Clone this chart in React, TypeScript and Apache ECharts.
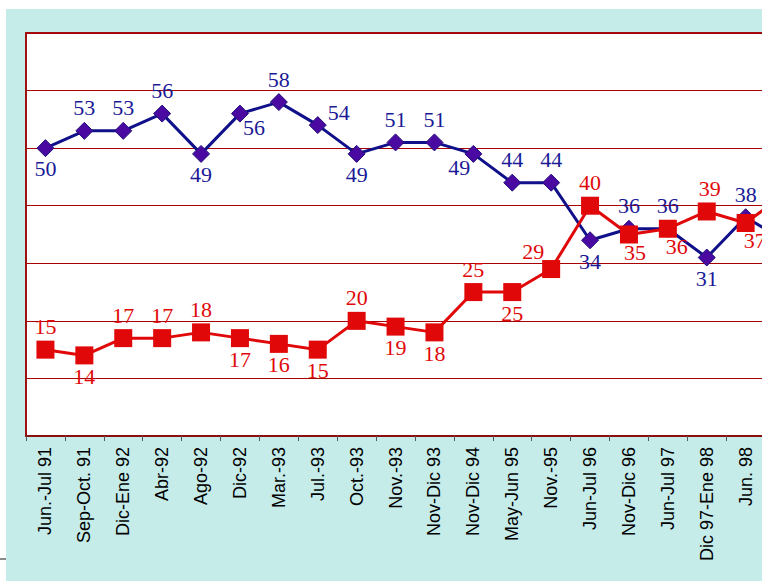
import React, { useEffect, useRef } from "react";
import * as echarts from "echarts";

const categories = [
  "Jun.-Jul 91", "Sep-Oct. 91", "Dic-Ene 92", "Abr-92", "Ago-92", "Dic-92",
  "Mar.-93", "Jul.-93", "Oct.-93", "Nov.-93", "Nov-Dic 93", "Nov-Dic 94",
  "May-Jun 95", "Nov.-95", "Jun-Jul 96", "Nov-Dic 96", "Jun-Jul 97",
  "Dic 97-Ene 98", "Jun. 98", "Nov. 98",
];
const blueValues = [50, 53, 53, 56, 49, 56, 58, 54, 49, 51, 51, 49, 44, 44, 34, 36, 36, 31, 38, 34];
const redValues = [15, 14, 17, 17, 18, 17, 16, 15, 20, 19, 18, 25, 25, 29, 40, 35, 36, 39, 37, 42];

// label placement per point: [position, dx, dy]
type LP = [string, number, number];
const blueLabelPos: LP[] = [
  ["bottom", 0, -3], ["top", 0, 0], ["top", 0, 0], ["top", 0, 0], ["bottom", 0, -2],
  ["bottom", 14, -9], ["top", 0, 0], ["top", 21, 10], ["bottom", 0, -2], ["top", 0, 0],
  ["top", 0, 0], ["bottom", -14, -9], ["top", 0, 0], ["top", 0, 0], ["bottom", 0, -2],
  ["top", 0, 0], ["top", 0, 0], ["bottom", 0, -2], ["top", 0, 0], ["top", 0, 0],
];
const redLabelPos: LP[] = [
  ["top", 0, 0], ["bottom", 0, -2], ["top", 0, 0], ["top", 0, 0], ["top", 0, 0],
  ["bottom", 0, -2], ["bottom", 0, -2], ["bottom", 0, -2], ["top", 0, 0], ["bottom", 0, -2],
  ["bottom", 0, -2], ["top", 0, 0], ["bottom", 0, -2], ["top", -18, 5], ["top", 0, 0],
  ["bottom", 6, -5], ["bottom", 9, -5], ["top", 3, 0], ["bottom", 9, -5], ["top", 0, 0],
];

const BLUE_LINE = "#10108a";
const BLUE_FILL = "#4a0aa2";
const BLUE_TEXT = "#1a1a96";
const RED = "#e00808";
const GRID_RED = "#a80000";

export default function App() {
  const ref = useRef<HTMLDivElement>(null);
  useEffect(() => {
    if (!ref.current) return;
    const chart = echarts.init(ref.current, undefined, { renderer: "svg" });
    const mk = (vals: number[], pos: LP[]) =>
      vals.map((v, i) => ({
        value: v,
        label: { position: pos[i][0] as any, offset: [pos[i][1], pos[i][2]] },
      }));
    chart.setOption({
      animation: false,
      backgroundColor: "#c6ecea",
      grid: {
        left: 20,
        top: 24,
        right: 102,
        bottom: 145,
        show: true,
        backgroundColor: "#ffffff",
        borderColor: "#a01010",
        borderWidth: 2,
      },
      xAxis: {
        type: "category",
        data: categories,
        boundaryGap: true,
        axisLine: { show: true, lineStyle: { color: "#8a1010", width: 2 } },
        axisTick: { show: true, length: 5, lineStyle: { color: "#555", width: 1 } },
        axisLabel: {
          rotate: 90,
          margin: 11,
          fontFamily: "Liberation Sans, Arial, sans-serif",
          fontSize: 18,
          color: "#000",
          interval: 0,
        },
      },
      yAxis: {
        type: "value",
        min: 0,
        max: 70,
        interval: 10,
        axisLine: { show: false },
        axisTick: { show: false },
        axisLabel: { show: false },
        splitLine: { show: true, lineStyle: { color: GRID_RED, width: 1 } },
      },
      series: [
        {
          type: "line",
          data: mk(blueValues, blueLabelPos),
          symbol: "diamond",
          symbolSize: 17,
          lineStyle: { color: BLUE_LINE, width: 3 },
          itemStyle: { color: BLUE_FILL, borderColor: "#20107a", borderWidth: 1 },
          label: {
            show: true,
            color: BLUE_TEXT,
            fontFamily: "Liberation Serif, Times New Roman, serif",
            fontSize: 22,
            distance: 3,
          },
          z: 2,
        },
        {
          type: "line",
          data: mk(redValues, redLabelPos),
          symbol: "rect",
          symbolSize: 18,
          lineStyle: { color: RED, width: 3 },
          itemStyle: { color: RED, borderColor: RED, borderWidth: 0 },
          label: {
            show: true,
            color: RED,
            fontFamily: "Liberation Serif, Times New Roman, serif",
            fontSize: 22,
            distance: 3,
          },
          z: 3,
        },
      ],
    });
    return () => chart.dispose();
  }, []);
  return (
    <div
      style={{
        position: "fixed",
        left: 0,
        top: 0,
        width: 762,
        height: 581,
        overflow: "hidden",
        background: "#ffffff",
      }}
    >
      <div
        style={{ position: "absolute", left: 0, top: 558, width: 6, height: 2, background: "#888" }}
      />
      <div
        ref={ref}
        style={{ position: "absolute", left: 6, top: 9, width: 900, height: 572 }}
      />
    </div>
  );
}
